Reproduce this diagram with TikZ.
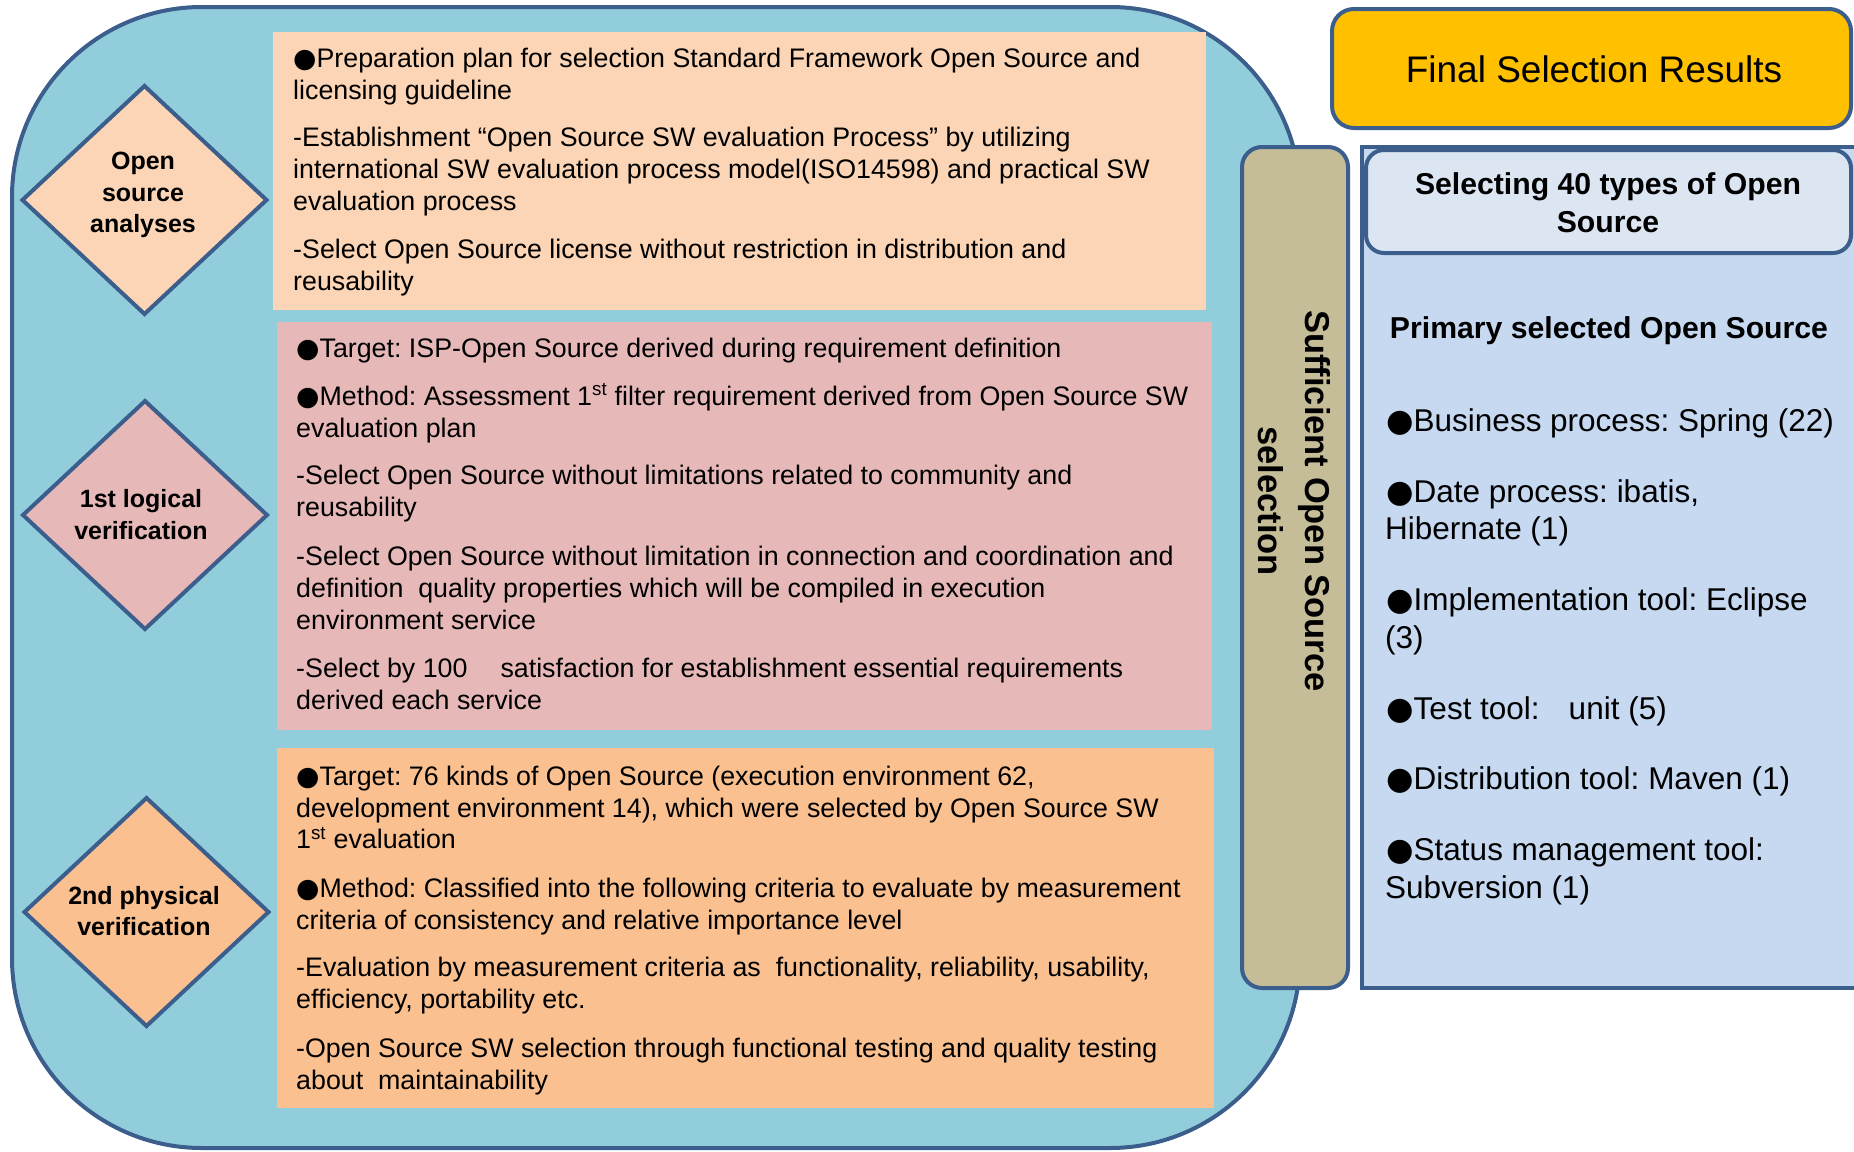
\documentclass[tikz,border=0pt]{standalone}
\usepackage{fontspec}
\setmainfont{Liberation Sans}
\newfontfamily\bulfont{DejaVu Sans}
\newcommand{\bul}{{\bulfont ●}}
\frenchspacing
\usetikzlibrary{shapes.geometric}
\definecolor{bordc}{HTML}{3B5E8C}
\definecolor{outerfill}{HTML}{92CDDC}
\definecolor{peach}{HTML}{FBD5B5}
\definecolor{rose}{HTML}{E6B9B8}
\definecolor{apricot}{HTML}{FAC090}
\definecolor{tan}{HTML}{C4BD97}
\definecolor{gold}{HTML}{FFC000}
\definecolor{panel}{HTML}{C6D9F1}
\definecolor{panellight}{HTML}{DCE6F2}
\tikzset{
  bordline/.style={draw=bordc, line width=4pt},
  txt/.style={anchor=base west, inner sep=0pt, font=\fontsize{26.8}{32}\selectfont},
  rtxt/.style={anchor=base west, inner sep=0pt, font=\fontsize{31.5}{38}\selectfont},
  dtxt/.style={anchor=base, inner sep=0pt, font=\bfseries\fontsize{25}{31}\selectfont},
  btxt/.style={anchor=base, inner sep=0pt, font=\bfseries\fontsize{30.2}{38}\selectfont},
  diam/.style={diamond, bordline, inner sep=0pt, outer sep=0pt, minimum width=244pt, minimum height=228pt},
  slab/.style={inner sep=0pt, outer sep=0pt, anchor=north west}
}
\begin{document}
\begin{tikzpicture}[x=1pt, y=-1pt]
\useasboundingbox (0,0) rectangle (1854,1151);
% outer rounded region
\node[slab, bordline, fill=outerfill, rounded corners=190pt, minimum width=1288pt, minimum height=1141pt] (outer) at (12,7) {};
% content boxes
\node[slab, fill=peach, minimum width=933pt, minimum height=278pt] (box1) at (273,32) {};
\node[slab, fill=rose, minimum width=935pt, minimum height=408pt] (box2) at (277,322) {};
\node[slab, fill=apricot, minimum width=937pt, minimum height=360pt] (box3) at (277,748) {};
% diamonds
\node[diam, fill=peach] (d1) at (144.5,200) {};
\node[diam, fill=rose] (d2) at (145,515) {};
\node[diam, fill=apricot] (d3) at (146.5,912) {};
\node[dtxt] (d1a) at (143,169) {Open};
\node[dtxt] (d1b) at (143,201) {source};
\node[dtxt] (d1c) at (143,232) {analyses};
\node[dtxt] (d2a) at (141,507) {1st logical};
\node[dtxt] (d2b) at (141,539) {verification};
\node[dtxt] (d3a) at (144,904) {2nd physical};
\node[dtxt] (d3b) at (144,935) {verification};
% box 1 text
\node[txt] (t11) at (293,67) {\bul Preparation plan for selection Standard Framework Open Source and};
\node[txt] (t12) at (293,99) {licensing guideline};
\node[txt] (t13) at (293,146) {-Establishment “Open Source SW evaluation Process” by utilizing};
\node[txt] (t14) at (293,178) {international SW evaluation process model(ISO14598) and practical SW};
\node[txt] (t15) at (293,210) {evaluation process};
\node[txt] (t16) at (293,258.5) {-Select Open Source license without restriction in distribution and};
\node[txt] (t17) at (293,290) {reusability};
% box 2 text
\node[txt] (t21) at (296,357) {\bul Target: ISP-Open Source derived during requirement definition};
\node[txt] (t22) at (296,405) {\bul Method: Assessment 1\textsuperscript{st} filter requirement derived from Open Source SW};
\node[txt] (t23) at (296,437) {evaluation plan};
\node[txt] (t24) at (296,484) {-Select Open Source without limitations related to community and};
\node[txt] (t25) at (296,516) {reusability};
\node[txt] (t26) at (296,565) {-Select Open Source without limitation in connection and coordination and};
\node[txt] (t27) at (296,597) {definition\ \ quality properties which will be compiled in execution};
\node[txt] (t28) at (296,629) {environment service};
\node[txt] (t29) at (296,677) {-Select by 100\hspace{33pt}satisfaction for establishment essential requirements};
\node[txt] (t2a) at (296,709) {derived each service};
% box 3 text
\node[txt] (t31) at (296,785) {\bul Target: 76 kinds of Open Source (execution environment 62,};
\node[txt] (t32) at (296,817) {development environment 14), which were selected by Open Source SW};
\node[txt] (t33) at (296,848.5) {1\textsuperscript{st} evaluation};
\node[txt] (t34) at (296,897) {\bul Method: Classified into the following criteria to evaluate by measurement};
\node[txt] (t35) at (296,929) {criteria of consistency and relative importance level};
\node[txt] (t36) at (296,976) {-Evaluation by measurement criteria as\ \ functionality, reliability, usability,};
\node[txt] (t37) at (296,1008) {efficiency, portability etc.};
\node[txt] (t38) at (296,1057) {-Open Source SW selection through functional testing and quality testing};
\node[txt] (t39) at (296,1089) {about\ \ maintainability};
% tan vertical box
\node[slab, bordline, fill=tan, rounded corners=20pt, minimum width=106pt, minimum height=841pt] (tanbox) at (1242,147) {};
\node[anchor=base, inner sep=0pt, rotate=-90, font=\bfseries\fontsize{34.5}{47}\selectfont] (tana) at (1305.6,501) {Sufficient Open Source};
\node[anchor=base, inner sep=0pt, rotate=-90, font=\bfseries\fontsize{34.5}{47}\selectfont] (tanb) at (1258.6,501) {selection};
% final results
\node[slab, bordline, fill=gold, rounded corners=22pt, minimum width=519pt, minimum height=119pt] (final) at (1332,9) {};
\node[anchor=base, inner sep=0pt, font=\fontsize{37}{44}\selectfont] (finaltxt) at (1594,82) {Final Selection Results};
% right panel
\node[slab, bordline, fill=panel, minimum width=520pt, minimum height=841pt] (panelbox) at (1362,147) {};
\node[slab, bordline, fill=panellight, rounded corners=18pt, minimum width=485pt, minimum height=103pt] (head) at (1366,150) {};
\node[btxt] (h1) at (1608,194) {Selecting 40 types of Open};
\node[btxt] (h2) at (1608,232) {Source};
\node[btxt] (prim) at (1609,338) {Primary selected Open Source};
\node[rtxt] (r1) at (1386,431) {\bul Business process: Spring (22)};
\node[rtxt] (r2) at (1386,502) {\bul Date process: ibatis,};
\node[rtxt] (r3) at (1385,539.5) {Hibernate (1)};
\node[rtxt] (r4) at (1386,610.5) {\bul Implementation tool: Eclipse};
\node[rtxt] (r5) at (1385,648) {(3)};
\node[rtxt] (r6) at (1386,719) {\bul Test tool:\hspace{29pt}unit (5)};
\node[rtxt] (r7) at (1386,789) {\bul Distribution tool: Maven (1)};
\node[rtxt] (r8) at (1386,860) {\bul Status management tool:};
\node[rtxt] (r9) at (1385,898) {Subversion (1)};
\end{tikzpicture}
\end{document}
